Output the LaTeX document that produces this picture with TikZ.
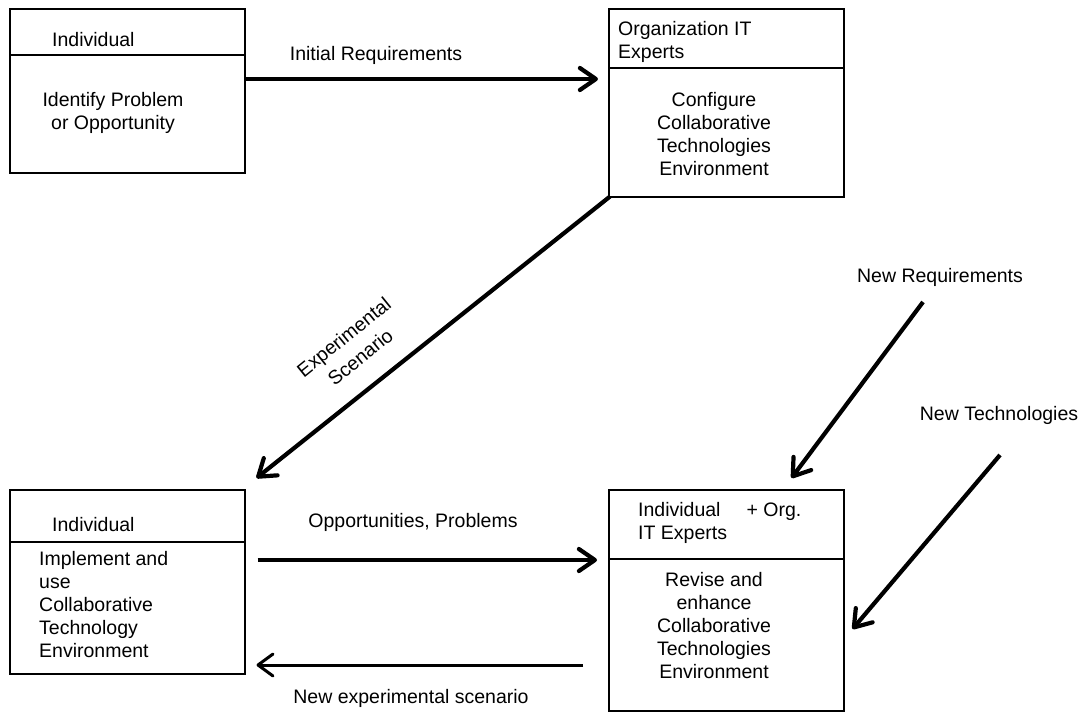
\documentclass[tikz,border=0pt]{standalone}
\usepackage{fontspec}
\setmainfont{Liberation Sans}
\usetikzlibrary{arrows.meta}
\newcommand\dfont{\fontsize{19.5}{23}\selectfont}
\tikzset{
  box/.style={draw, line width=1.5pt, rectangle, inner sep=0pt, anchor=north west},
  divider/.style={line width=2pt},
  txt/.style={inner sep=0pt, font=\dfont},
  arr/.style={line width=4.2pt, -{Straight Barb[length=16pt, width=22pt, round]}},
  thinarr/.style={line width=3pt, -{Straight Barb[length=15pt, width=22pt, round]}}
}
\begin{document}
\begin{tikzpicture}[x=1pt, y=-1pt]
\useasboundingbox (0,0) rectangle (1086,712);

% boxes
\node[box, minimum width=235pt, minimum height=164pt] (b1) at (9,8) {};
\node[box, minimum width=235pt, minimum height=188pt] (b2) at (608,8) {};
\node[box, minimum width=235pt, minimum height=184pt] (b3) at (9,489) {};
\node[box, minimum width=235pt, minimum height=221pt] (b4) at (608,489) {};

% dividers
\draw[divider] ([yshift=-47pt]b1.north west) -- ([yshift=-47pt]b1.north east);
\draw[divider] ([yshift=-60pt]b2.north west) -- ([yshift=-60pt]b2.north east);
\draw[divider] ([yshift=-53pt]b3.north west) -- ([yshift=-53pt]b3.north east);
\draw[divider] ([yshift=-70pt]b4.north west) -- ([yshift=-70pt]b4.north east);

% box texts
\node[txt, anchor=north west] (t1h) at (52,30) {\strut Individual};
\node[txt, anchor=north, align=center] (t1b) at (113,90) {\strut Identify Problem\\or Opportunity};

\node[txt, anchor=north west, align=left] (t2h) at (618,19) {\strut Organization IT\\Experts};
\node[txt, anchor=north, align=center] (t2b) at (714,90) {\strut Configure\\Collaborative\\Technologies\\Environment};

\node[txt, anchor=north west] (t3h) at (52,515) {\strut Individual};
\node[txt, anchor=north west, align=left] (t3b) at (39,549) {\strut Implement and\\use\\Collaborative\\Technology\\Environment};

\node[txt, anchor=north west, align=left] (t4h) at (638,500) {\strut Individual\hspace{26pt}+ Org.\\IT Experts};
\node[txt, anchor=north, align=center] (t4b) at (714,570) {\strut Revise and\\enhance\\Collaborative\\Technologies\\Environment};

% free ends
\coordinate (nrs) at (923,302);
\coordinate (nts) at (1000,455);

% connectors
\draw[arr] ([yshift=-71pt]b1.north east) -- ([xshift=-10pt, yshift=-71pt]b2.north west);
\draw[arr] ([xshift=2pt, yshift=1pt]b2.south west) -- ([xshift=11pt, yshift=11pt]b3.north east);
\draw[arr] ([xshift=12pt, yshift=-71pt]b3.north east) -- ([xshift=-11pt, yshift=-71pt]b4.north west);
\draw[thinarr] ([xshift=-25pt, yshift=-176pt]b4.north west) -- ([xshift=11pt, yshift=-176pt]b3.north east);
\draw[arr] (nrs) -- ([xshift=-53pt, yshift=11pt]b4.north east);
\draw[arr] (nts) -- ([xshift=8pt, yshift=-140pt]b4.north east);

% connector labels
\node[txt] (l1) at (376,55) {Initial Requirements};
\node[inner sep=0pt, font=\fontsize{19.5}{26}\selectfont, rotate=39, align=center] (l2) at (352,347) {Experimental\\Scenario};
\node[txt] (l3) at (413,522) {Opportunities, Problems};
\node[txt] (l4) at (411,698) {New experimental scenario};
\node[txt] (l5) at (940,277) {New Requirements};
\node[txt] (l6) at (999,415) {New Technologies};
\end{tikzpicture}
\end{document}
